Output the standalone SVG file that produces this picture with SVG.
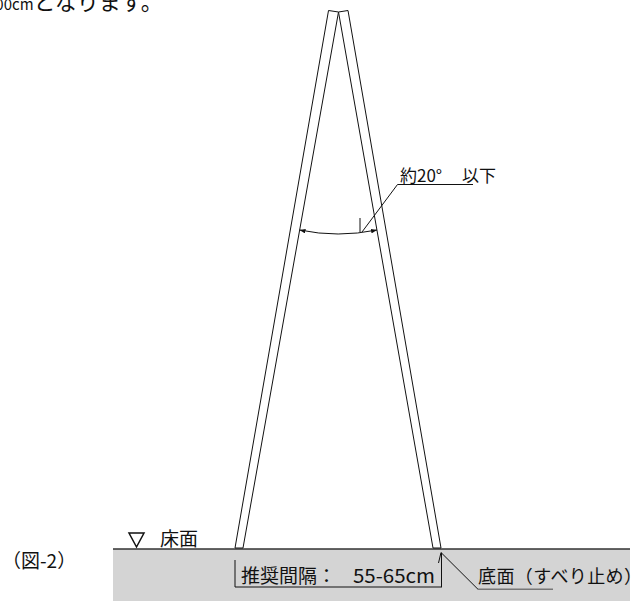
<svg xmlns="http://www.w3.org/2000/svg" width="643" height="601" viewBox="0 0 643 601">
<style>
text{font-family:"Noto Sans CJK JP","Noto Sans",sans-serif;fill:#111}
.leg{fill:#fff;stroke:#111;stroke-width:1}
.ln{fill:none;stroke:#111;stroke-width:1}
.gl{fill:none;stroke:#777;stroke-width:1.4}
</style>
<defs>
<marker id="ah" viewBox="0 0 8 6" refX="8" refY="3" markerWidth="6" markerHeight="4.5" orient="auto-start-reverse" markerUnits="userSpaceOnUse">
<path d="M0,0 L8,3 L0,6 Z" fill="#111"/>
</marker>
</defs>
<rect width="643" height="601" fill="#fff"/>
<g id="top-text">
<text x="-13" y="10" font-size="22"><tspan font-size="15">000cm</tspan>となります。</text>
</g>
<g id="ground">
<rect x="113" y="549" width="517" height="52" fill="#d4d4d4"/>
<line x1="113" y1="549" x2="630" y2="549" stroke="#333" stroke-width="1.4"/>
</g>
<g id="leg-left"><path class="leg" d="M328.5,10.5 L338.5,12 L243,548 L235,548 Z"/></g>
<g id="leg-right"><path class="leg" d="M338.5,12 L348,10.5 L441,548 L433,548 Z"/></g>
<g id="floor-label">
<path d="M129,533 L144,533 L136.5,547 Z" fill="none" stroke="#111" stroke-width="1.5"/>
<text x="160" y="546" font-size="19">床面</text>
</g>
<g id="fig-label"><text x="2" y="568" font-size="19">（図-2）</text></g>
<g id="connectors">
<path class="ln" d="M299.5,230 Q338,238 377,230" marker-start="url(#ah)" marker-end="url(#ah)"/>
<line class="ln" x1="360" y1="218" x2="360" y2="232"/>
<path class="ln" d="M362,232 L397.5,184.5 L473,184.5"/>
<path class="ln" d="M235,560 L235,587 L442,587" stroke-width="1.8"/>
<line class="ln" x1="441.5" y1="553" x2="441.5" y2="587"/>
<path class="ln" d="M438.5,563 L441,552.5 L478,589.3"/>
<line class="gl" x1="478" y1="589.3" x2="553" y2="589.3"/>
</g>
<g id="angle-label"><text x="400" y="182" font-size="17">約20° <tspan x="462">以下</tspan></text></g>
<g id="spacing-label"><text x="241" y="583" font-size="19">推奨間隔：<tspan x="353" textLength="82" lengthAdjust="spacingAndGlyphs">55-65cm</tspan></text></g>
<g id="base-label"><text x="478" y="583" font-size="18" textLength="164" lengthAdjust="spacing">底面（すべり止め）</text></g>
</svg>
